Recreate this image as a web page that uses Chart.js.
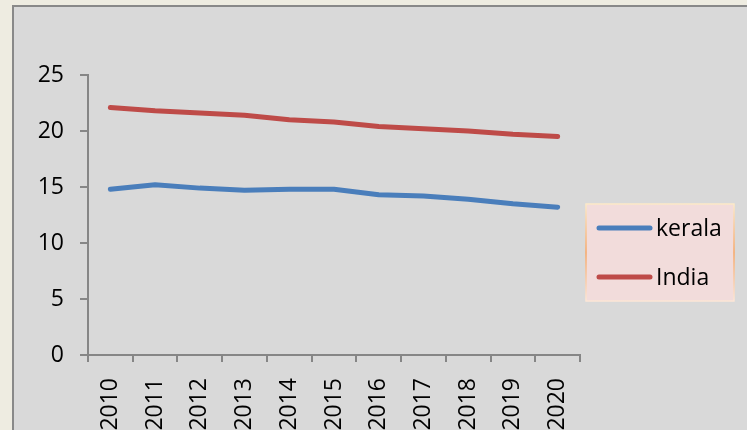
<!DOCTYPE html>
<html>
<head>
<meta charset="utf-8">
<script src="https://cdn.jsdelivr.net/npm/chart.js@4/dist/chart.umd.min.js"></script>
<style>
  html, body { margin: 0; padding: 0; width: 747px; height: 430px; overflow: hidden; background: #EEECE1; }
  #panel { position: absolute; left: 12px; top: 5px; width: 760px; height: 460px; background: #D9D9D9; border: 2px solid #898989; box-sizing: border-box; }
  #wrap { position: absolute; left: 0; top: 0; width: 747px; height: 430px; }
</style>
</head>
<body>
<div id="panel"></div>
<div id="wrap"><canvas id="c" width="747" height="430"></canvas></div>
<script>
const years = ['2010','2011','2012','2013','2014','2015','2016','2017','2018','2019','2020'];
const kerala = [14.8, 15.2, 14.9, 14.7, 14.8, 14.8, 14.3, 14.2, 13.9, 13.5, 13.2];
const india = [22.1, 21.8, 21.6, 21.4, 21.0, 20.8, 20.4, 20.2, 20.0, 19.7, 19.5];
const seriesNames = ['kerala', 'India'];
const seriesColors = ['#4A7EBB', '#BE4B48'];
const yTicks = [0, 5, 10, 15, 20, 25];

const FONT = '"Open Sans", "Liberation Sans", sans-serif';

const legendPlugin = {
  id: 'boxLegend',
  afterDraw(chart) {
    const ctx = chart.ctx;
    const x = 586, y = 204, w = 148, h = 97;
    ctx.save();
    ctx.fillStyle = '#F2DCDB';
    ctx.fillRect(x, y, w, h);
    const g = ctx.createLinearGradient(0, y, 0, y + h);
    g.addColorStop(0, '#FCE9C8');
    g.addColorStop(0.5, '#F7A868');
    g.addColorStop(1, '#FCE6D6');
    ctx.strokeStyle = g;
    ctx.lineWidth = 1.5;
    ctx.strokeRect(x, y, w, h);
    const rows = [228, 277];
    ctx.font = '23px ' + FONT;
    ctx.textBaseline = 'middle';
    ctx.textAlign = 'left';
    chart.data.datasets.forEach((ds, i) => {
      ctx.strokeStyle = ds.borderColor;
      ctx.lineWidth = 5;
      ctx.lineCap = 'round';
      ctx.beginPath();
      ctx.moveTo(599, rows[i]);
      ctx.lineTo(650, rows[i]);
      ctx.stroke();
      ctx.fillStyle = '#000';
      ctx.fillText(ds.label, 656, rows[i] + 1);
    });
    ctx.restore();
  }
};

new Chart(document.getElementById('c'), {
  type: 'line',
  data: {
    labels: years,
    datasets: [
      { label: seriesNames[0], data: kerala, borderColor: seriesColors[0], backgroundColor: seriesColors[0],
        borderWidth: 5, pointRadius: 0, tension: 0, borderCapStyle: 'round', borderJoinStyle: 'round' },
      { label: seriesNames[1], data: india, borderColor: seriesColors[1], backgroundColor: seriesColors[1],
        borderWidth: 5, pointRadius: 0, tension: 0, borderCapStyle: 'round', borderJoinStyle: 'round' }
    ]
  },
  options: {
    responsive: false,
    animation: false,
    devicePixelRatio: 1,
    layout: { padding: { top: 75, right: 167, bottom: 0, left: 0 } },
    plugins: { legend: { display: false }, tooltip: { enabled: false } },
    scales: {
      x: {
        type: 'category',
        offset: true,
        afterFit(s) { s.height = 75; },
        grid: { offset: true, drawOnChartArea: false, drawTicks: true, tickLength: 7, color: '#868686', lineWidth: 2 },
        border: { display: true, color: '#868686', width: 2 },
        ticks: { minRotation: 90, maxRotation: 90, padding: 16, color: '#000', font: { family: FONT, size: 23 }, autoSkip: false }
      },
      y: {
        min: 0, max: 25,
        afterFit(s) { s.width = 88; },
        afterBuildTicks(s) { s.ticks = yTicks.map(v => ({ value: v })); },
        grid: { drawOnChartArea: false, drawTicks: true, tickLength: 8, color: '#868686', lineWidth: 2 },
        border: { display: true, color: '#868686', width: 2 },
        ticks: { padding: 16, color: '#000', font: { family: FONT, size: 23 } }
      }
    }
  },
  plugins: [legendPlugin]
});
</script>
</body>
</html>
